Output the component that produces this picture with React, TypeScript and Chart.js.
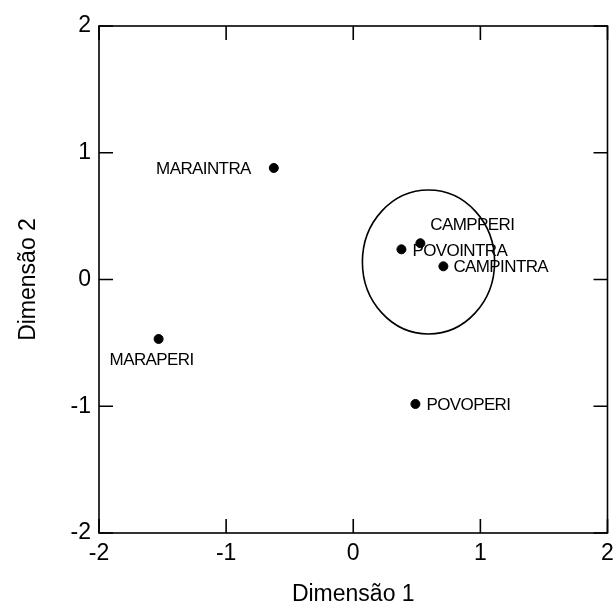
import React, { useEffect, useRef } from 'react';
import { Chart, registerables } from 'chart.js';

Chart.register(...registerables);

const pointLabels = ['MARAINTRA', 'MARAPERI', 'POVOINTRA', 'CAMPPERI', 'CAMPINTRA', 'POVOPERI'];
const dim1Values = [-0.625, -1.531, 0.379, 0.528, 0.709, 0.489];
const dim2Values = [0.88, -0.469, 0.238, 0.286, 0.104, -0.982];
const tickValues = [-2, -1, 0, 1, 2];
const ellipseCenter = [0.592, 0.138];
const ellipseRadii = [0.52, 0.568];
const xTitle = 'Dimensão 1';
const yTitle = 'Dimensão 2';

// label placement relative to each point (style only)
const labelPlacement: { align: CanvasTextAlign; dx: number; dy: number }[] = [
  { align: 'right', dx: -23, dy: 1 },
  { align: 'center', dx: -7, dy: 21 },
  { align: 'left', dx: 11, dy: 2 },
  { align: 'left', dx: 10, dy: -18 },
  { align: 'left', dx: 10, dy: 1 },
  { align: 'left', dx: 11, dy: 1 },
];

const FONT = "'Liberation Sans', Arial, Helvetica, sans-serif";

const framePlugin = {
  id: 'frameAndExtras',
  afterDatasetsDraw(chart: any) {
    const { ctx, chartArea, scales } = chart;
    const xs = scales.x;
    const ys = scales.y;
    ctx.save();
    // ellipse
    const cx = xs.getPixelForValue(ellipseCenter[0]);
    const cy = ys.getPixelForValue(ellipseCenter[1]);
    const rx = Math.abs(xs.getPixelForValue(ellipseCenter[0] + ellipseRadii[0]) - cx);
    const ry = Math.abs(ys.getPixelForValue(ellipseCenter[1] + ellipseRadii[1]) - cy);
    ctx.beginPath();
    ctx.ellipse(cx, cy, rx, ry, 0, 0, Math.PI * 2);
    ctx.strokeStyle = '#000';
    ctx.lineWidth = 1.6;
    ctx.stroke();

    // frame
    ctx.lineWidth = 1.6;
    ctx.strokeStyle = '#000';
    ctx.strokeRect(chartArea.left, chartArea.top, chartArea.right - chartArea.left, chartArea.bottom - chartArea.top);
    // inward ticks
    const tl = 14;
    ctx.beginPath();
    tickValues.forEach((v) => {
      const px = xs.getPixelForValue(v);
      ctx.moveTo(px, chartArea.bottom);
      ctx.lineTo(px, chartArea.bottom - tl);
      ctx.moveTo(px, chartArea.top);
      ctx.lineTo(px, chartArea.top + tl);
      const py = ys.getPixelForValue(v);
      ctx.moveTo(chartArea.left, py);
      ctx.lineTo(chartArea.left + tl, py);
      ctx.moveTo(chartArea.right, py);
      ctx.lineTo(chartArea.right - tl, py);
    });
    ctx.stroke();

    // point labels
    ctx.fillStyle = '#000';
    ctx.font = `17px ${FONT}`;
    try {
      (ctx as any).letterSpacing = '-0.6px';
    } catch (e) {
      /* ignore */
    }
    ctx.textBaseline = 'middle';
    pointLabels.forEach((label, i) => {
      const p = labelPlacement[i];
      const px = xs.getPixelForValue(dim1Values[i]);
      const py = ys.getPixelForValue(dim2Values[i]);
      ctx.textAlign = p.align;
      ctx.fillText(label, px + p.dx, py + p.dy);
    });
    ctx.restore();
  },
};

export default function App() {
  const canvasRef = useRef<HTMLCanvasElement | null>(null);

  useEffect(() => {
    if (!canvasRef.current) return;
    const chart = new Chart(canvasRef.current, {
      type: 'scatter',
      data: {
        datasets: [
          {
            label: 'Pontos',
            data: dim1Values.map((x, i) => ({ x, y: dim2Values[i] })),
            backgroundColor: '#000',
            borderColor: '#000',
            pointRadius: 4.5,
            pointHoverRadius: 4.5,
          },
        ],
      },
      options: {
        animation: false,
        responsive: false,
        layout: { padding: { top: 26, right: 8.5, left: 0, bottom: 0 } },
        plugins: { legend: { display: false }, tooltip: { enabled: false } },
        scales: {
          x: {
            type: 'linear',
            min: -2,
            max: 2,
            afterFit: (scale: any) => {
              scale.height = 75;
              scale.paddingLeft = 0;
              scale.paddingRight = 0;
            },
            afterBuildTicks: (scale: any) => {
              scale.ticks = tickValues.map((v) => ({ value: v }));
            },
            grid: { display: false, drawTicks: false },
            border: { display: false },
            ticks: {
              color: '#000',
              padding: 7,
              font: { family: FONT, size: 23 },
              maxRotation: 0,
            },
            title: {
              display: true,
              text: xTitle,
              color: '#000',
              font: { family: FONT, size: 23 },
              padding: { top: 0, bottom: 0 },
            },
          },
          y: {
            type: 'linear',
            min: -2,
            max: 2,
            afterFit: (scale: any) => {
              scale.width = 99;
              scale.paddingTop = 0;
              scale.paddingBottom = 0;
            },
            afterBuildTicks: (scale: any) => {
              scale.ticks = tickValues.map((v) => ({ value: v }));
            },
            grid: { display: false, drawTicks: false },
            border: { display: false },
            ticks: {
              color: '#000',
              padding: 8,
              font: { family: FONT, size: 23 },
            },
            title: {
              display: true,
              text: yTitle,
              color: '#000',
              font: { family: FONT, size: 23 },
              padding: { top: 15, bottom: 0 },
            },
          },
        },
      },
      plugins: [framePlugin],
    });
    return () => chart.destroy();
  }, []);

  return (
    <div style={{ position: 'absolute', left: 0, top: 0, width: 616, height: 608 }}>
      <canvas ref={canvasRef} width={616} height={608} />
    </div>
  );
}
